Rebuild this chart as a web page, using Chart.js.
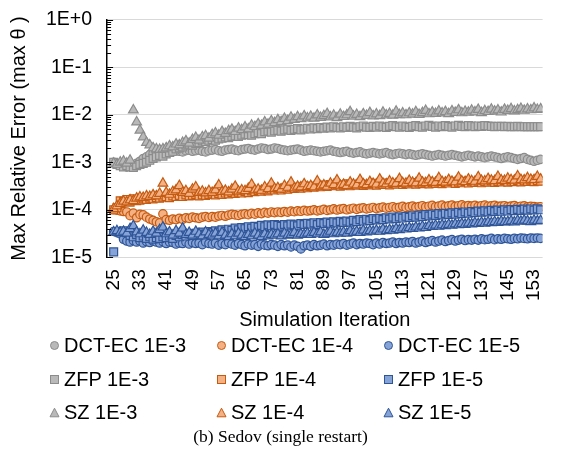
<!DOCTYPE html>
<html>
<head>
<meta charset="utf-8">
<script src="https://cdn.jsdelivr.net/npm/chart.js@4.4.0/dist/chart.umd.min.js"></script>
<style>
  body { margin: 0; background: #fff; }
  #wrap { position: relative; width: 561px; height: 450px; overflow: hidden; font-family: "Liberation Sans", Arial, sans-serif; }
  #chart { position: absolute; left: 0; top: -7px; }
  #legend { position: absolute; left: 49px; top: 329px; display: grid; grid-template-columns: 167px 167px 167px; grid-auto-rows: 33.5px; }
  .item { display: flex; align-items: center; font-size: 20px; color: #000; white-space: nowrap; }
  .item svg { margin-right: 4px; }
  #caption { position: absolute; left: 0; width: 561px; top: 426px; text-align: center; font-family: "Liberation Serif", "Times New Roman", serif; font-size: 17.5px; }
</style>
</head>
<body>
<div id="wrap">
  <canvas id="chart" width="561" height="339"></canvas>
  <div id="legend"></div>
  <div id="caption">(b) Sedov (single restart)</div>
</div>
<script>
// simulation iterations (x)
const iterations = [
  25, 26, 27, 28, 29, 30, 31, 32, 33, 34, 35, 36, 37, 38, 39, 40, 41, 42, 43, 44,
  45, 46, 47, 48, 49, 50, 51, 52, 53, 54, 55, 56, 57, 58, 59, 60, 61, 62, 63, 64,
  65, 66, 67, 68, 69, 70, 71, 72, 73, 74, 75, 76, 77, 78, 79, 80, 81, 82, 83, 84,
  85, 86, 87, 88, 89, 90, 91, 92, 93, 94, 95, 96, 97, 98, 99, 100, 101, 102, 103, 104,
  105, 106, 107, 108, 109, 110, 111, 112, 113, 114, 115, 116, 117, 118, 119, 120, 121, 122, 123, 124,
  125, 126, 127, 128, 129, 130, 131, 132, 133, 134, 135, 136, 137, 138, 139, 140, 141, 142, 143, 144,
  145, 146, 147, 148, 149, 150, 151, 152, 153, 154, 155
];
const xTickLabels = [25, 33, 41, 49, 57, 65, 73, 81, 89, 97, 105, 113, 121, 129, 137, 145, 153];
const yTickValues = [1e-5, 1e-4, 1e-3, 1e-2, 1e-1, 1];

// error bound 1E-3, values in units of 1e-3
const dct3 = [
  1.0, 0.95, 0.9, 0.85, 0.8, 0.85, 0.88, 0.95, 1.05, 1.2,
  1.3, 1.45, 1.5, 1.6, 1.55, 1.65, 1.6, 1.7, 1.65, 1.75,
  1.7, 1.65, 1.75, 1.8, 1.7, 1.75, 1.8, 1.7, 1.65, 1.75,
  1.8, 1.85, 1.75, 1.7, 1.8, 1.85, 1.9, 1.8, 1.75, 1.85,
  1.9, 1.95, 1.85, 1.8, 1.9, 2.0, 1.95, 1.85, 1.9, 2.0,
  1.95, 1.85, 1.8, 1.75, 1.8, 1.85, 1.9, 1.8, 1.7, 1.75,
  1.8, 1.75, 1.7, 1.65, 1.7, 1.75, 1.8, 1.7, 1.65, 1.6,
  1.65, 1.7, 1.6, 1.55, 1.6, 1.65, 1.55, 1.5, 1.55, 1.6,
  1.55, 1.5, 1.55, 1.6, 1.5, 1.45, 1.5, 1.55, 1.5, 1.45,
  1.5, 1.45, 1.4, 1.45, 1.5, 1.45, 1.4, 1.35, 1.4, 1.45,
  1.4, 1.35, 1.4, 1.45, 1.4, 1.35, 1.3, 1.35, 1.4, 1.35,
  1.3, 1.35, 1.3, 1.25, 1.3, 1.35, 1.3, 1.25, 1.2, 1.25,
  1.3, 1.25, 1.2, 1.15, 1.2, 1.25, 1.15, 1.1, 1.05, 1.1,
  1.15
];
const zfp3 = [
  1.0, 0.9, 0.85, 0.8, 0.85, 0.8, 0.78, 0.85, 0.9, 0.95,
  1.0, 1.1, 1.2, 1.3, 1.4, 1.35, 1.5, 1.6, 1.7, 1.9,
  2.0, 2.1, 2.3, 2.4, 2.3, 2.5, 2.6, 2.8, 2.7, 2.9,
  3.0, 2.9, 3.1, 3.2, 3.4, 3.3, 3.5, 3.6, 3.5, 3.7,
  3.9, 3.8, 3.7, 4.0, 4.2, 4.0, 4.4, 4.5, 4.3, 4.6,
  4.7, 4.5, 4.8, 5.0, 4.7, 4.9, 5.1, 4.8, 5.0, 5.2,
  5.0, 5.3, 5.1, 5.4, 5.2, 5.5, 5.3, 5.6, 5.4, 5.3,
  5.6, 5.4, 5.7, 5.5, 5.3, 5.6, 5.8, 5.5, 5.4, 5.7,
  5.5, 5.8, 5.6, 5.4, 5.7, 5.9, 5.6, 5.5, 5.8, 5.6,
  5.4, 5.7, 5.9, 5.6, 5.5, 5.8, 6.0, 5.7, 5.5, 5.8,
  5.6, 5.9, 5.7, 5.5, 5.8, 6.0, 5.7, 5.6, 5.9, 5.8,
  5.6, 5.8, 5.7, 5.9, 5.8, 5.7, 5.6, 5.7, 5.7, 5.6,
  5.7, 5.6, 5.6, 5.7, 5.6, 5.6, 5.6, 5.6, 5.6, 5.6,
  5.6
];
const sz3 = [
  0.95, 0.9, 1.0, 1.05, 0.95, 1.1, 12.5, 7.0, 4.7, 3.4,
  2.6, 2.3, 2.0, 1.9, 1.85, 1.9, 2.0, 2.2, 2.1, 2.4,
  2.3, 2.6, 2.8, 2.5, 3.0, 3.3, 2.9, 3.4, 3.6, 3.2,
  3.8, 4.1, 3.7, 4.4, 4.0, 4.6, 4.9, 4.4, 5.2, 4.8,
  5.5, 5.0, 6.0, 5.6, 6.4, 5.9, 7.0, 6.3, 7.4, 6.8,
  7.8, 7.1, 8.3, 7.5, 8.8, 7.9, 9.0, 8.2, 9.4, 8.5,
  9.2, 8.4, 9.8, 8.7, 9.5, 10.5, 8.9, 9.7, 8.6, 10.2,
  9.1, 9.9, 11.5, 9.3, 10.1, 9.0, 10.4, 9.6, 11.0, 9.4,
  10.3, 9.5, 11.2, 9.8, 10.6, 9.7, 11.8, 10.0, 10.8, 9.9,
  10.9, 10.2, 11.5, 10.1, 11.0, 12.2, 10.4, 11.3, 10.6, 11.9,
  10.8, 11.6, 10.5, 12.0, 11.1, 12.6, 10.9, 11.7, 11.2, 12.4,
  11.4, 12.8, 11.0, 12.1, 11.6, 13.0, 11.8, 12.5, 11.3, 12.9,
  12.2, 13.3, 11.9, 12.7, 13.5, 12.3, 13.1, 12.6, 13.8, 12.8,
  13.2
];

// error bound 1E-4, values in units of 1e-4
const dct4 = [
  1.0, 0.98, 0.95, 0.92, 0.9, 0.75, 0.85, 0.68, 0.8, 0.78,
  0.7, 0.64, 0.6, 0.56, 0.53, 0.82, 0.62, 0.6, 0.64, 0.62,
  0.66, 0.63, 0.68, 0.66, 0.7, 0.68, 0.66, 0.7, 0.72, 0.69,
  0.72, 0.7, 0.74, 0.76, 0.73, 0.77, 0.8, 0.78, 0.76, 0.8,
  0.82, 0.79, 0.84, 0.81, 0.86, 0.83, 0.88, 0.85, 0.9, 0.87,
  0.9, 0.88, 0.92, 0.89, 0.94, 0.91, 0.95, 0.93, 0.97, 0.94,
  0.96, 1.0, 0.95, 0.98, 1.02, 0.97, 1.0, 1.05, 0.99, 1.03,
  1.06, 1.0, 1.04, 1.08, 1.02, 1.07, 1.1, 1.04, 1.08, 1.12,
  1.06, 1.1, 1.14, 1.08, 1.12, 1.16, 1.1, 1.13, 1.18, 1.12,
  1.15, 1.2, 1.13, 1.17, 1.22, 1.15, 1.19, 1.24, 1.16, 1.2,
  1.25, 1.17, 1.21, 1.26, 1.18, 1.22, 1.27, 1.19, 1.23, 1.2,
  1.24, 1.18, 1.22, 1.25, 1.19, 1.21, 1.24, 1.18, 1.2, 1.22,
  1.17, 1.2, 1.23, 1.16, 1.19, 1.21, 1.15, 1.18, 1.17, 1.14,
  1.16
];
const zfp4 = [
  1.0, 1.1, 1.55, 1.5, 1.65, 1.45, 1.7, 1.55, 1.6, 1.7,
  1.65, 1.75, 1.7, 1.8, 1.75, 1.85, 1.9, 1.8, 1.95, 1.9,
  2.0, 1.9, 2.05, 1.95, 2.0, 2.1, 1.95, 2.05, 2.0, 2.1,
  2.15, 2.05, 2.2, 2.1, 2.25, 2.15, 2.3, 2.2, 2.35, 2.25,
  2.4, 2.3, 2.5, 2.4, 2.55, 2.45, 2.6, 2.5, 2.7, 2.6,
  2.75, 2.6, 2.85, 2.7, 2.9, 2.8, 3.0, 2.85, 3.1, 2.9,
  3.1, 3.0, 3.25, 3.05, 3.3, 3.1, 3.4, 3.2, 3.35, 3.15,
  3.3, 3.5, 3.2, 3.4, 3.3, 3.55, 3.25, 3.45, 3.35, 3.6,
  3.3, 3.5, 3.4, 3.65, 3.35, 3.55, 3.45, 3.7, 3.4, 3.6,
  3.5, 3.75, 3.45, 3.65, 3.55, 3.8, 3.5, 3.7, 3.6, 3.85,
  3.55, 3.75, 3.65, 3.9, 3.6, 3.8, 3.7, 3.95, 3.65, 3.85,
  3.75, 4.0, 3.7, 3.9, 3.8, 4.05, 3.75, 3.95, 3.85, 4.1,
  3.8, 4.0, 3.9, 4.15, 3.85, 4.05, 3.95, 4.2, 3.9, 4.1,
  4.0
];
const sz4 = [
  1.05, 1.2, 1.35, 1.5, 1.45, 1.6, 1.55, 1.75, 1.85, 1.8,
  1.95, 1.9, 2.05, 1.95, 2.2, 3.6, 2.3, 2.1, 2.4, 2.6,
  3.2, 2.3, 2.5, 2.2, 2.7, 3.0, 2.3, 2.45, 2.25, 2.5,
  2.3, 2.6, 3.3, 2.4, 2.55, 2.35, 2.7, 3.1, 2.45, 2.6,
  2.5, 2.8, 3.4, 2.6, 2.7, 2.55, 3.0, 2.75, 3.6, 2.8,
  2.9, 2.7, 3.2, 2.95, 3.8, 2.85, 3.1, 3.0, 3.5, 3.05,
  3.2, 3.0, 4.0, 3.15, 3.3, 3.1, 3.6, 3.35, 4.2, 3.25,
  3.4, 3.2, 3.8, 3.45, 3.3, 4.3, 3.5, 3.35, 3.9, 3.55,
  3.45, 4.4, 3.6, 3.5, 4.0, 3.65, 3.55, 4.5, 3.7, 3.6,
  4.1, 3.75, 3.65, 4.6, 3.8, 3.7, 4.2, 3.85, 3.75, 4.7,
  3.9, 3.8, 4.3, 3.95, 3.85, 4.8, 4.0, 3.9, 4.4, 4.05,
  3.95, 4.9, 4.1, 4.0, 4.5, 4.15, 4.05, 5.0, 4.2, 4.1,
  4.6, 4.25, 4.15, 5.1, 4.3, 4.2, 4.7, 4.35, 4.25, 5.0,
  4.4
];

// error bound 1E-5, values in units of 1e-5
const dct5 = [
  3.5, 3.3, 3.1, 2.4, 2.2, 2.1, 2.25, 2.1, 2.2, 2.0,
  2.15, 2.05, 2.2, 2.1, 2.0, 2.15, 1.95, 2.1, 2.05, 1.9,
  2.0, 1.95, 2.1, 1.9, 2.05, 1.95, 2.0, 1.85, 2.1, 1.95,
  1.9, 2.0, 1.8, 1.95, 1.85, 2.05, 1.9, 1.8, 1.95, 1.85,
  1.75, 1.9, 1.8, 1.85, 1.7, 1.9, 1.8, 1.75, 1.85, 1.8,
  1.7, 1.85, 1.75, 1.8, 1.65, 1.8, 1.7, 1.5, 1.75, 1.8,
  1.7, 1.85, 1.75, 1.8, 1.9, 1.75, 1.85, 1.8, 1.9, 1.85,
  1.95, 1.8, 1.9, 2.0, 1.85, 1.95, 1.9, 2.0, 1.95, 1.85,
  2.0, 1.9, 2.05, 1.95, 2.0, 2.1, 1.95, 2.05, 2.0, 2.1,
  2.05, 2.15, 2.0, 2.1, 2.2, 2.05, 2.15, 2.25, 2.1, 2.2,
  2.3, 2.15, 2.25, 2.35, 2.2, 2.3, 2.4, 2.25, 2.35, 2.3,
  2.4, 2.3, 2.45, 2.35, 2.4, 2.5, 2.35, 2.45, 2.4, 2.5,
  2.45, 2.4, 2.5, 2.45, 2.55, 2.5, 2.45, 2.55, 2.5, 2.55,
  2.5
];
const zfp5 = [
  1.3, 3.5, 3.4, 3.6, 3.3, 2.9, 2.7, 3.0, 2.6, 2.8,
  2.5, 2.7, 2.4, 2.6, 2.5, 2.7, 2.6, 2.8, 2.5, 2.9,
  2.7, 3.0, 2.8, 3.1, 2.9, 3.2, 3.0, 3.4, 3.1, 3.5,
  3.3, 3.6, 3.4, 3.8, 3.5, 3.9, 3.7, 4.1, 3.8, 4.2,
  4.0, 4.4, 4.1, 4.5, 4.3, 4.7, 4.4, 4.8, 4.6, 4.9,
  4.7, 4.5, 4.9, 4.6, 5.0, 4.8, 4.6, 5.1, 4.9, 5.2,
  5.0, 5.3, 4.9, 5.4, 5.1, 5.5, 5.2, 5.6, 5.3, 5.7,
  5.4, 5.8, 5.5, 6.0, 5.6, 6.2, 5.8, 6.3, 5.9, 6.5,
  6.1, 6.6, 6.2, 6.8, 6.4, 7.0, 6.5, 7.1, 6.7, 7.3,
  6.9, 7.5, 7.0, 7.7, 7.2, 7.9, 7.4, 8.1, 7.6, 8.3,
  7.8, 8.4, 8.0, 8.6, 8.1, 8.8, 8.3, 9.0, 8.5, 9.2,
  8.7, 9.4, 8.9, 9.5, 9.0, 9.7, 9.2, 9.9, 9.3, 10.0,
  9.4, 10.1, 9.6, 10.2, 9.7, 10.3, 9.8, 10.4, 9.9, 10.5,
  10.0
];
const sz5 = [
  3.4, 3.6, 3.3, 3.5, 3.2, 4.0, 4.6, 3.4, 3.1, 3.7,
  3.3, 3.0, 3.5, 3.2, 3.8, 4.3, 3.1, 3.4, 2.9, 3.6,
  3.2, 4.1, 3.0, 3.3, 2.9, 3.5, 3.1, 2.8, 3.4, 3.0,
  2.9, 3.2, 2.8, 3.3, 2.9, 2.7, 3.1, 2.8, 3.2, 2.9,
  2.7, 3.0, 2.8, 3.2, 2.9, 2.7, 3.1, 2.8, 3.0, 2.9,
  3.1, 2.8, 3.2, 2.9, 3.0, 3.3, 2.9, 3.1, 3.0, 3.2,
  3.0, 3.3, 3.1, 3.4, 3.0, 3.2, 3.5, 3.1, 3.3, 3.2,
  3.4, 3.2, 3.6, 3.3, 3.5, 3.3, 3.7, 3.4, 3.6, 3.5,
  3.7, 3.5, 3.9, 3.6, 3.8, 3.7, 4.0, 3.8, 4.1, 3.9,
  4.2, 4.0, 4.3, 4.1, 4.5, 4.2, 4.6, 4.4, 4.7, 4.5,
  4.8, 4.6, 4.9, 4.7, 5.0, 4.8, 5.1, 4.9, 5.2, 5.0,
  5.3, 5.1, 5.4, 5.2, 5.5, 5.3, 5.6, 5.4, 5.7, 5.5,
  5.6, 5.8, 5.5, 5.9, 5.7, 6.0, 5.8, 5.6, 6.0, 5.8,
  5.9
];

const GRAY = { fill: '#b9b9b9', line: '#8c8c8c' };
const ORANGE = { fill: '#f4b183', line: '#c55a11' };
const BLUE = { fill: '#86a3d8', line: '#2f5597' };

// series in legend order (row by row)
const series = [
  { label: 'DCT-EC 1E-3', values: dct3, unit: 1e-3, shape: 'circle', c: GRAY },
  { label: 'DCT-EC 1E-4', values: dct4, unit: 1e-4, shape: 'circle', c: ORANGE },
  { label: 'DCT-EC 1E-5', values: dct5, unit: 1e-5, shape: 'circle', c: BLUE },
  { label: 'ZFP 1E-3', values: zfp3, unit: 1e-3, shape: 'rect', c: GRAY },
  { label: 'ZFP 1E-4', values: zfp4, unit: 1e-4, shape: 'rect', c: ORANGE },
  { label: 'ZFP 1E-5', values: zfp5, unit: 1e-5, shape: 'rect', c: BLUE },
  { label: 'SZ 1E-3', values: sz3, unit: 1e-3, shape: 'triangle', c: GRAY },
  { label: 'SZ 1E-4', values: sz4, unit: 1e-4, shape: 'triangle', c: ORANGE },
  { label: 'SZ 1E-5', values: sz5, unit: 1e-5, shape: 'triangle', c: BLUE }
];

const radius = { circle: 4.2, rect: 5.6, triangle: 5.6 };

const datasets = series.map((s, i) => ({
  label: s.label,
  data: s.values.map((v, j) => ({ x: iterations[j], y: v * s.unit })),
  showLine: false,
  pointStyle: s.shape,
  pointRadius: radius[s.shape],
  pointBackgroundColor: s.c.fill,
  pointBorderColor: s.c.line,
  pointBorderWidth: 1.2,
  order: series.length - i
}));

// black y axis with inward decade and minor ticks
const yAxisTicks = {
  id: 'yAxisTicks',
  afterDraw(chart) {
    const ys = chart.scales.y;
    const x0 = chart.chartArea.left;
    const c = chart.ctx;
    c.save();
    c.strokeStyle = '#000';
    c.lineWidth = 1;
    c.beginPath();
    for (let e = -5; e <= 0; e++) {
      const py = Math.round(ys.getPixelForValue(Math.pow(10, e))) + 0.5;
      c.moveTo(x0, py); c.lineTo(x0 + 6, py);
      if (e === 0) break;
      for (let k = 2; k <= 9; k++) {
        const my = Math.round(ys.getPixelForValue(k * Math.pow(10, e))) + 0.5;
        c.moveTo(x0, my); c.lineTo(x0 + 4, my);
      }
    }
    c.stroke();
    c.restore();
  }
};

const FONT = '"Liberation Sans", Arial, sans-serif';

new Chart(document.getElementById('chart'), {
  type: 'scatter',
  data: { datasets },
  plugins: [yAxisTicks],
  options: {
    responsive: false,
    animation: false,
    layout: { padding: { top: 0, right: 6, left: 7, bottom: 0 } },
    plugins: { legend: { display: false }, tooltip: { enabled: false } },
    scales: {
      x: {
        type: 'linear',
        min: 23,
        max: 155.6,
        afterBuildTicks: (s) => { s.ticks = xTickLabels.map(v => ({ value: v })); },
        grid: { display: false },
        border: { display: false },
        ticks: {
          minRotation: 90, maxRotation: 90, autoSkip: false,
          color: '#000', padding: 4,
          font: { family: FONT, size: 19 },
          callback: (v) => String(v)
        },
        title: {
          display: true, text: 'Simulation Iteration', color: '#000',
          font: { family: FONT, size: 20 }, padding: { top: 3, bottom: 0 }
        }
      },
      y: {
        type: 'logarithmic',
        min: 1e-5,
        max: 1,
        afterBuildTicks: (s) => { s.ticks = yTickValues.map(v => ({ value: v })); },
        grid: { color: '#d9d9d9', lineWidth: 1, drawTicks: false },
        border: { display: true, color: '#000', width: 1.5 },
        ticks: {
          color: '#000', padding: 15,
          font: { family: FONT, size: 19.5 },
          callback: (v) => {
            const e = Math.round(Math.log10(v));
            return '1E' + (e < 0 ? '-' : '+') + Math.abs(e);
          }
        },
        title: {
          display: true, text: 'Max Relative Error (max \u03B8 )', color: '#000',
          font: { family: FONT, size: 20 }, padding: { top: 0, bottom: 0 }
        }
      }
    }
  }
});

// three-column legend under the chart
const shapeSvg = (shape, c) => {
  if (shape === 'circle') return `<svg width="11" height="11"><circle cx="5.5" cy="5.5" r="4" fill="${c.fill}" stroke="${c.line}"/></svg>`;
  if (shape === 'rect') return `<svg width="11" height="11"><rect x="1.5" y="1.5" width="8" height="8" fill="${c.fill}" stroke="${c.line}"/></svg>`;
  return `<svg width="11" height="11"><polygon points="5.5,1.2 10,9.8 1,9.8" fill="${c.fill}" stroke="${c.line}"/></svg>`;
};
const legend = document.getElementById('legend');
series.forEach(s => {
  const el = document.createElement('div');
  el.className = 'item';
  el.innerHTML = shapeSvg(s.shape, s.c) + '<span>' + s.label + '</span>';
  legend.appendChild(el);
});
</script>
</body>
</html>
